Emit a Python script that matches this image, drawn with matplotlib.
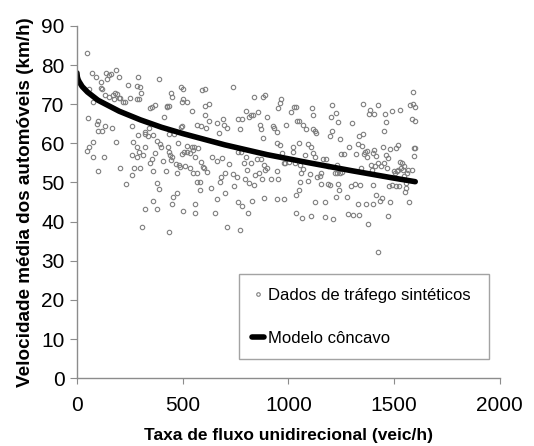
import matplotlib
matplotlib.use("Agg")
import matplotlib.pyplot as plt
import numpy as np

plt.rcParams['font.family'] = ['Liberation Sans', 'DejaVu Sans']

# synthetic traffic points (flow veic/h, speed km/h)
flow = [49, 55, 71, 88, 77, 54, 93, 98, 102, 49, 58, 77, 77, 98, 126, 118, 131, 115, 115, 118,
        137, 150, 143, 131, 150, 165, 161, 172, 180, 186, 186, 175, 191, 197, 200, 206, 202, 216, 228, 230,
        244, 250, 260, 260, 260, 263, 272, 282, 285, 288, 298, 295, 301, 288, 285, 295, 314, 298, 285, 306,
        320, 323, 323, 323, 335, 342, 348, 353, 358, 348, 353, 361, 358, 370, 367, 377, 377, 377, 386, 386,
        392, 399, 408, 413, 424, 427, 421, 430, 434, 437, 437, 437, 440, 443, 446, 448, 451, 452, 456, 459,
        468, 473, 475, 478, 484, 487, 490, 493, 496, 496, 500, 503, 503, 498, 507, 513, 519, 519, 523, 534,
        537, 542, 545, 547, 550, 553, 558, 558, 560, 566, 566, 569, 572, 582, 585, 582, 588, 591, 604, 597,
        600, 604, 607, 610, 616, 623, 623, 632, 638, 651, 661, 661, 664, 671, 677, 683, 686, 690, 696, 700,
        702, 708, 711, 720, 736, 739, 742, 755, 764, 764, 764, 771, 771, 777, 780, 783, 788, 793, 799, 802,
        805, 809, 812, 815, 821, 824, 828, 833, 836, 839, 843, 852, 857, 862, 865, 871, 871, 874, 878, 878,
        884, 886, 890, 890, 897, 900, 919, 925, 934, 944, 944, 944, 950, 947, 953, 959, 961, 966, 969, 979,
        979, 985, 988, 1001, 1013, 1023, 1023, 1026, 1032, 1035, 1035, 1038, 1042, 1048, 1051, 1051, 1054, 1057, 1061, 1064,
        1067, 1067, 1080, 1083, 1092, 1094, 1102, 1105, 1108, 1111, 1115, 1115, 1118, 1124, 1127, 1127, 1133, 1137, 1149, 1153,
        1156, 1165, 1171, 1175, 1180, 1186, 1189, 1196, 1199, 1202, 1205, 1205, 1212, 1221, 1224, 1224, 1230, 1230, 1234, 1237,
        1240, 1243, 1243, 1250, 1256, 1262, 1278, 1284, 1288, 1294, 1300, 1306, 1313, 1319, 1329, 1329, 1335, 1335, 1338, 1344,
        1348, 1351, 1354, 1360, 1363, 1367, 1370, 1373, 1376, 1382, 1385, 1389, 1395, 1398, 1398, 1400, 1403, 1406, 1409, 1413,
        1416, 1423, 1426, 1426, 1432, 1438, 1441, 1448, 1451, 1454, 1457, 1460, 1463, 1467, 1470, 1473, 1476, 1482, 1482, 1492,
        1492, 1498, 1505, 1508, 1511, 1514, 1517, 1520, 1524, 1527, 1530, 1533, 1536, 1543, 1546, 1549, 1552, 1555, 1558, 1562,
        1565, 1571, 1577, 1584, 1587, 1590, 1590, 1593, 1596, 1599, 1599, 1601]
speed = [83.0, 74.0, 78.0, 77.0, 70.5, 66.5, 65.0, 65.8, 63.2, 58.0, 59.0, 60.4, 56.5, 52.9, 56.5, 63.2, 64.4, 75.7, 74.2, 73.8,
         78.0, 77.5, 76.5, 72.4, 71.9, 63.9, 77.7, 72.4, 72.9, 78.8, 60.3, 71.2, 72.7, 76.9, 71.7, 71.7, 53.8, 70.5, 70.5, 49.5,
         75.0, 71.5, 64.4, 51.9, 57.0, 60.4, 53.8, 74.7, 71.2, 76.9, 74.3, 71.2, 72.9, 62.0, 59.0, 57.7, 57.0, 53.8, 56.5, 38.6,
         62.4, 63.0, 43.1, 59.1, 61.9, 63.9, 68.9, 69.2, 62.0, 55.0, 56.1, 52.9, 45.2, 69.7, 57.4, 60.6, 43.1, 49.9, 76.5, 48.4,
         59.7, 59.1, 55.5, 66.7, 69.2, 69.6, 52.9, 59.1, 57.8, 69.5, 37.3, 62.3, 57.0, 55.7, 72.9, 71.8, 56.4, 44.6, 46.3, 62.4,
         54.6, 52.3, 47.3, 60.0, 54.4, 54.0, 74.5, 64.2, 64.4, 70.6, 73.8, 71.4, 42.7, 57.3, 57.9, 54.2, 70.6, 59.3, 57.9, 57.4,
         53.7, 59.1, 68.3, 52.5, 58.3, 59.1, 44.5, 42.2, 56.6, 64.7, 52.5, 50.2, 58.9, 50.1, 55.3, 48.2, 64.5, 73.5, 73.8, 54.0,
         53.6, 67.2, 69.5, 63.9, 52.6, 70.0, 65.8, 48.5, 56.6, 42.2, 55.5, 65.3, 45.8, 62.7, 50.2, 51.5, 56.3, 66.2, 64.6, 52.4,
         47.4, 63.9, 38.6, 54.7, 74.3, 52.1, 49.1, 51.3, 66.3, 57.8, 44.9, 63.6, 37.8, 57.7, 44.0, 66.3, 54.9, 50.8, 68.3, 56.6,
         53.3, 42.2, 66.6, 49.9, 54.9, 67.2, 45.3, 67.3, 71.8, 49.3, 51.9, 55.9, 68.1, 52.5, 64.7, 63.7, 55.9, 51.0, 71.9, 61.3,
         46.0, 54.4, 72.3, 53.2, 53.8, 66.8, 51.0, 64.4, 63.8, 63.0, 53.0, 45.7, 69.1, 60.0, 51.0, 59.6, 70.4, 71.2, 57.4, 45.8,
         54.9, 55.0, 64.8, 55.3, 68.1, 59.1, 57.9, 69.2, 55.0, 46.8, 42.1, 69.4, 65.8, 60.0, 65.8, 48.0, 50.2, 54.4, 52.3, 40.8,
         64.8, 53.5, 56.9, 63.6, 50.5, 59.8, 52.1, 41.4, 59.1, 68.9, 67.2, 57.4, 63.6, 63.2, 56.6, 45.1, 62.7, 51.5, 51.6, 49.6,
         52.3, 56.1, 45.1, 41.2, 55.9, 54.2, 49.5, 49.3, 61.8, 66.8, 69.9, 63.2, 40.7, 52.3, 67.8, 46.3, 54.4, 52.5, 65.5, 49.7,
         48.0, 61.0, 52.3, 57.3, 52.7, 57.3, 46.2, 41.9, 59.1, 49.2, 65.3, 41.6, 49.5, 57.2, 44.5, 59.8, 41.6, 61.8, 49.3, 53.8,
         59.3, 62.5, 70.0, 57.3, 57.7, 44.6, 56.6, 58.1, 39.3, 67.5, 68.5, 54.4, 53.3, 57.5, 44.6, 49.3, 67.5, 58.3, 54.2, 56.7,
         46.8, 32.2, 69.8, 55.0, 45.2, 54.2, 46.0, 59.1, 63.2, 55.0, 67.5, 56.9, 65.5, 53.6, 41.4, 56.3, 49.0, 58.5, 45.1, 68.3,
         49.3, 53.0, 52.3, 58.9, 49.0, 53.0, 59.6, 53.3, 49.0, 55.3, 68.6, 53.6, 54.9, 53.3, 54.2, 51.6, 47.6, 48.7, 49.9, 52.3,
         53.3, 45.1, 69.8, 53.1, 66.3, 73.2, 70.0, 56.7, 58.9, 69.4, 65.8, 58.9]

# concave model curve
model_flow = [0, 2, 5, 10, 25, 50, 100, 200, 300, 400, 500, 700, 900, 1100, 1300, 1500, 1600]
model_speed = [78.0, 77.0, 76.4, 75.8, 74.5, 73.1, 71.0, 68.2, 66.0, 64.1, 62.5, 59.6, 57.1, 55.0, 53.0, 51.1, 50.2]

fig = plt.figure(figsize=(5.34, 4.46), dpi=100)
ax = fig.add_axes([0.144, 0.152, 0.792, 0.79])

ax.plot(flow, speed, linestyle='none', marker='o', markersize=3.2, markerfacecolor='none',
        markeredgecolor='#7f7f7f', markeredgewidth=0.8, label='Dados de tráfego sintéticos')
ax.plot(model_flow, model_speed, color='black', linewidth=4.0, solid_capstyle='round',
        label='Modelo côncavo')

ax.set_xlim(0, 2000)
ax.set_ylim(0, 90)
ax.set_xticks([0, 500, 1000, 1500, 2000])
ax.set_yticks(range(0, 91, 10))

for side in ['top', 'right']:
    ax.spines[side].set_visible(False)
for side in ['left', 'bottom']:
    ax.spines[side].set_color('#8c8c8c')
    ax.spines[side].set_linewidth(1.0)
ax.tick_params(axis='both', direction='out', color='#8c8c8c', labelsize=15)
ax.tick_params(axis='y', length=5, pad=4)
ax.tick_params(axis='x', length=4, pad=9)

ax.set_xlabel('Taxa de fluxo unidirecional (veic/h)', fontsize=12.5, fontweight='bold', labelpad=9)
ax.set_ylabel('Velocidade média dos automóveis (km/h)', fontsize=13.6, fontweight='bold', labelpad=5)

leg = ax.legend(loc='lower left', bbox_to_anchor=(0.383, 0.054, 0.591, 0.25), mode='expand',
                borderaxespad=0, fontsize=12, frameon=True, fancybox=False, edgecolor='#8c8c8c',
                handlelength=0.7, handletextpad=0.25, labelspacing=1.7, borderpad=0.8,
                markerscale=0.8)
leg.get_frame().set_linewidth(1.0)

fig.savefig('out.png', dpi=100)
